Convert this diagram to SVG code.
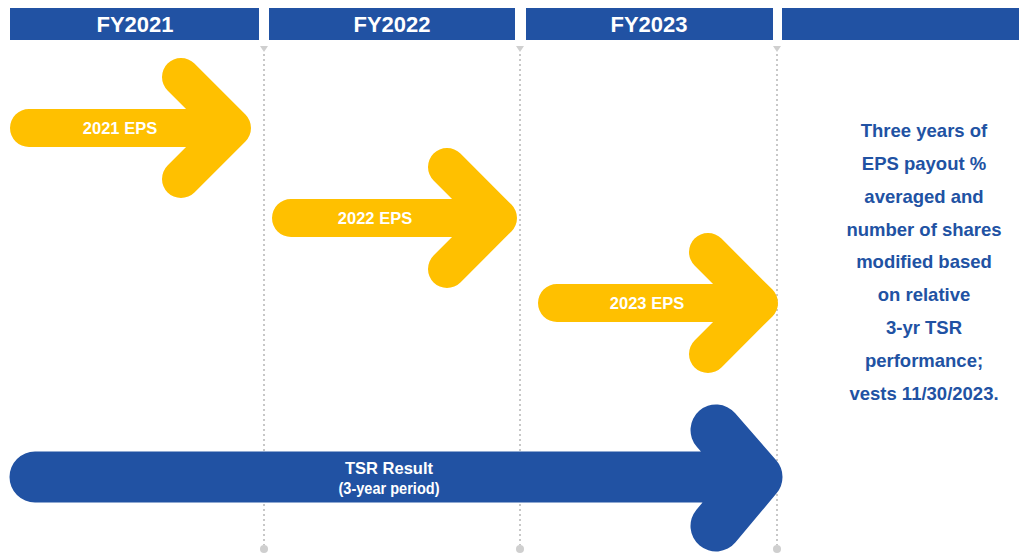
<svg xmlns="http://www.w3.org/2000/svg" width="1019" height="556" viewBox="0 0 1019 556">
<style>
.hdr{fill:#2152A3}
.htxt{fill:#fff;font-family:"Liberation Sans",Arial,sans-serif;font-weight:bold;font-size:22px;text-anchor:middle}
.div{stroke:#c8c8c8;stroke-width:2;stroke-dasharray:2 3;fill:none}
.divm{fill:#cfcfcf}
.ya{stroke:#FFC000;stroke-width:38;stroke-linecap:round;stroke-linejoin:round;fill:none}
.ba{stroke:#2152A3;stroke-width:51;stroke-linecap:round;stroke-linejoin:round;fill:none}
.atxt{fill:#fff;font-family:"Liberation Sans",Arial,sans-serif;font-weight:bold;font-size:16.5px;text-anchor:middle}
.side{fill:#2152A3;font-family:"Liberation Sans",Arial,sans-serif;font-weight:bold;font-size:18.5px;text-anchor:middle}
</style>
<rect width="1019" height="556" fill="#fff"/>
<g id="headers">
<g id="h2021"><rect class="hdr" x="10" y="8" width="249" height="32"/><text class="htxt" x="135" y="32">FY2021</text></g>
<g id="h2022"><rect class="hdr" x="269" y="8" width="246" height="32"/><text class="htxt" x="392" y="32">FY2022</text></g>
<g id="h2023"><rect class="hdr" x="526" y="8" width="247" height="32"/><text class="htxt" x="649" y="32">FY2023</text></g>
<g id="hvest"><rect class="hdr" x="782" y="8" width="237" height="32"/></g>
</g>
<g id="dividers">
<path class="div" d="M264 54V545M520 54V545M777 54V545"/>
<path class="divm" d="M260 46h8l-4 6zM516 46h8l-4 6zM773 46h8l-4 6z"/>
<circle class="divm" cx="264" cy="549" r="4"/>
<circle class="divm" cx="520" cy="549" r="4"/>
<circle class="divm" cx="777" cy="549" r="4"/>
</g>
<g id="connectors">
<g id="eps2021">
<path class="ya" d="M29 128H232M181 77L232 128L181 179"/>
<text class="atxt" x="120" y="134">2021 EPS</text>
</g>
<g id="eps2022">
<path class="ya" d="M291 218H498M447 167L498 218L447 269"/>
<text class="atxt" x="375" y="224">2022 EPS</text>
</g>
<g id="eps2023">
<path class="ya" d="M557 303H759M708 252L759 303L708 354"/>
<text class="atxt" x="647" y="309">2023 EPS</text>
</g>
<g id="tsr">
<path class="ba" d="M35 477H757M716 430L757 477L716 526"/>
<text class="atxt" x="389" y="474" font-size="17">TSR Result</text>
<text class="atxt" x="389" y="494" font-size="12" textLength="101" lengthAdjust="spacingAndGlyphs">(3-year period)</text>
</g>
</g>
<g id="summary">
<text class="side" x="924" y="137">Three years of</text>
<text class="side" x="924" y="170">EPS payout %</text>
<text class="side" x="924" y="203">averaged and</text>
<text class="side" x="924" y="236">number of shares</text>
<text class="side" x="924" y="268">modified based</text>
<text class="side" x="924" y="301">on relative</text>
<text class="side" x="924" y="334">3-yr TSR</text>
<text class="side" x="924" y="367">performance;</text>
<text class="side" x="924" y="400">vests 11/30/2023.</text>
</g>
</svg>
